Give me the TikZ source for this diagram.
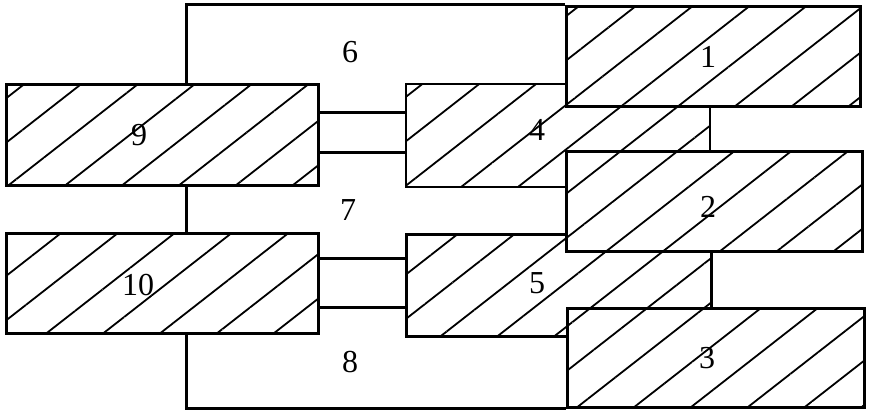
\documentclass[tikz,border=0pt]{standalone}
\usepackage{fontspec}
\setmainfont{Liberation Serif}
\usetikzlibrary{patterns.meta}
\tikzset{
  hbox/.style={draw, line width=2.6pt, rectangle, anchor=north west, inner sep=0pt,
    preaction={fill=white}, pattern={Lines[angle=38,distance=35pt,line width=1.8pt]}},
  wire/.style={line width=3pt},
  lbl/.style={font=\fontsize{32}{34}\selectfont, inner sep=0pt}
}
\begin{document}
\begin{tikzpicture}[x=1pt,y=-1pt]
\useasboundingbox (0,0) rectangle (870,414);
% middle boxes (partly hidden)
\node[hbox, minimum width=304pt, minimum height=103pt] (b4) at (405,83) {};
\node[hbox, minimum width=305pt, minimum height=102pt] (b5) at (405,233) {};
% right boxes
\node[hbox, minimum width=294pt, minimum height=100pt] (b1) at (565,5) {};
\node[hbox, minimum width=296pt, minimum height=100pt] (b2) at (565,150) {};
\node[hbox, minimum width=297pt, minimum height=99pt] (b3) at (566,307) {};
% left boxes
\node[hbox, minimum width=312pt, minimum height=101pt] (b9) at (5,83) {};
\node[hbox, minimum width=312pt, minimum height=100pt] (b10) at (5,232) {};
% helper coordinates
\coordinate (h1) at (0,113);
\coordinate (h2) at (0,153);
\coordinate (h3) at (0,258);
\coordinate (h4) at (0,307);
% frame wires
\draw[wire] ([xshift=181pt]b9.north west) |- (b1.north west);
\draw[wire] ([xshift=181pt]b9.south west) -- ([xshift=181pt]b10.north west);
\draw[wire] ([xshift=181pt]b10.south west) |- (b3.south west);
% connectors
\draw[wire] (b9.east |- h1) -- (b4.west |- h1);
\draw[wire] (b9.east |- h2) -- (b4.west |- h2);
\draw[wire] (b10.east |- h3) -- (b5.west |- h3);
\draw[wire] (b10.east |- h4) -- (b5.west |- h4);
% labels
\node[lbl] (l1) at (708,57) {1};
\node[lbl] (l2) at (708,207) {2};
\node[lbl] (l3) at (707,358) {3};
\node[lbl] (l4) at (537,130) {4};
\node[lbl] (l5) at (537,283) {5};
\node[lbl] (l6) at (350,52) {6};
\node[lbl] (l7) at (348,210) {7};
\node[lbl] (l8) at (350,362) {8};
\node[lbl] (l9) at (139,135) {9};
\node[lbl] (l10) at (138,285) {10};
\end{tikzpicture}
\end{document}
